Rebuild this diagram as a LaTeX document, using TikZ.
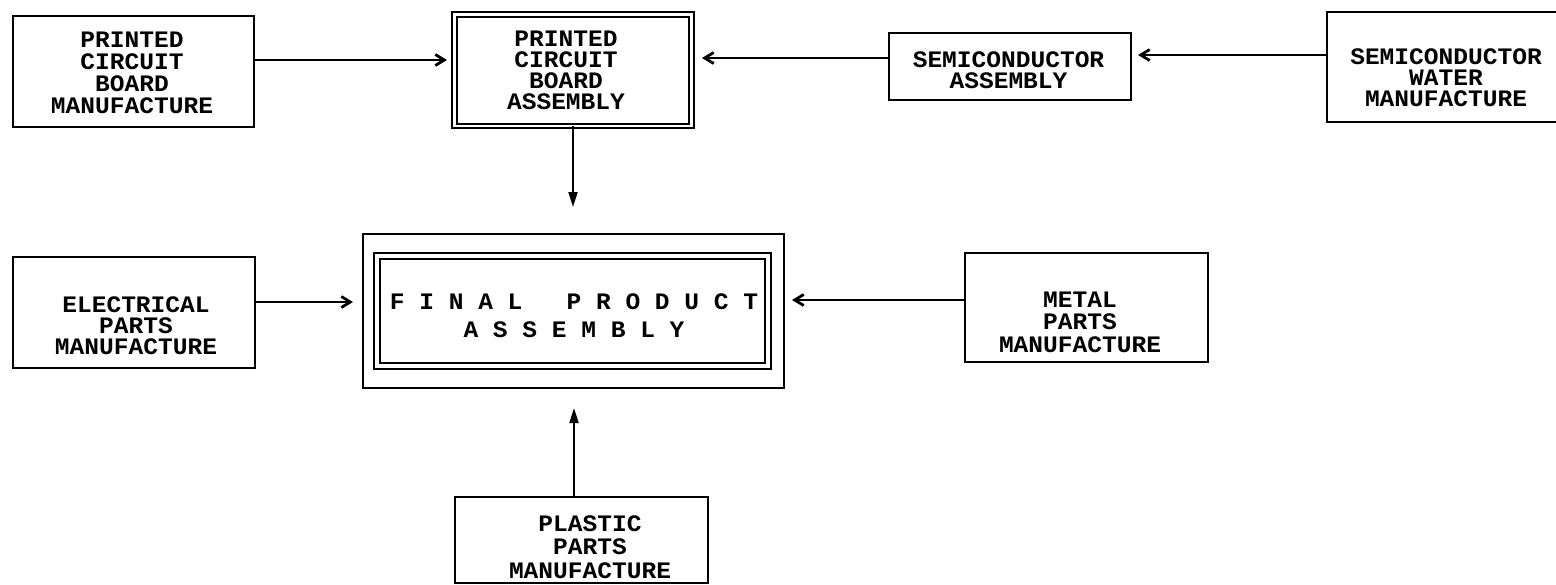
\documentclass[tikz,border=0pt]{standalone}
\usepackage{fontspec}
\newfontfamily\labfont{Liberation Mono}[FakeStretch=1.04]
\usetikzlibrary{arrows.meta}
\begin{document}
\begin{tikzpicture}[x=0.5pt,y=-0.5pt,
  box/.style={draw, line width=1.1pt, rectangle, inner sep=0pt, outer sep=0pt},
  dbox/.style={box, double, double distance=#1},
  dbox/.default=2pt,
  lbl/.style={align=center, inner sep=0pt, font=\labfont\bfseries\fontsize{11.8pt}{#1}\selectfont},
  lbl/.default=11pt,
  arr/.style={line width=1pt, -{Straight Barb[length=4.5pt,width=5.5pt,line width=1.4pt]}},
  varr/.style={line width=1pt, -{Triangle[length=7.5pt,width=4.5pt]}}]
\useasboundingbox (0,0) rectangle (1556,584);

% boxes
\node[box, minimum width=120.5pt, minimum height=55.5pt] (pcbm) at (133.5,71.5) {};
\node[lbl] (pcbmT) at (132,72.5) {PRINTED\\CIRCUIT\\BOARD\\MANUFACTURE};

\node[box, line width=1.1pt, dbox=1.2pt, minimum width=118.5pt, minimum height=55.75pt] (pcba) at (573,70.25) {};
\node[lbl=10.5pt] (pcbaT) at (566,70) {PRINTED\\CIRCUIT\\BOARD\\ASSEMBLY};

\node[box, minimum width=121pt, minimum height=33.5pt] (sema) at (1010,66.5) {};
\node[lbl=10.5pt] (semaT) at (1008.5,70.5) {SEMICONDUCTOR\\ASSEMBLY};

\node[box, minimum width=126.5pt, minimum height=55pt] (water) at (1453.5,67) {};
\node[lbl=10.6pt] (waterT) at (1446,78) {SEMICONDUCTOR\\WATER\\MANUFACTURE};

\node[box, minimum width=210.5pt, minimum height=77pt] (final) at (573.5,311) {};
\node[box, line width=1pt, dbox=2pt, minimum width=195.5pt, minimum height=55.25pt] (finalin) at (572.5,311) {};
\node[lbl=14pt] (finalT) at (574,316) {F~I~N~A~L~~~P~R~O~D~U~C~T\\A~S~S~E~M~B~L~Y};

\node[box, minimum width=121pt, minimum height=55.5pt] (elec) at (134,312.5) {};
\node[lbl=10.5pt] (elecT) at (136,326) {ELECTRICAL\\PARTS\\MANUFACTURE};

\node[box, minimum width=121.5pt, minimum height=54.5pt] (metal) at (1086.5,307.5) {};
\node[lbl=11.25pt] (metalT) at (1080,322) {METAL\\PARTS\\MANUFACTURE};

\node[box, minimum width=126.5pt, minimum height=43pt] (plastic) at (581.5,540) {};
\node[lbl=11.75pt] (plasticT) at (590,547) {PLASTIC\\PARTS\\MANUFACTURE};

% connectors
\draw[arr, shorten >=3.75pt] (pcbm.east |- 0,60) -- (pcba.west |- 0,60);
\draw[arr, shorten >=5.25pt] (sema.west |- 0,58) -- (pcba.east |- 0,58);
\draw[arr, shorten >=3.5pt] (water.west |- 0,55) -- (sema.east |- 0,55);
\draw[varr, shorten >=13.5pt] (pcba.south -| 573,0) -- (final.north -| 573,0);
\draw[varr, shorten >=10pt] (plastic.north -| 574,0) -- (final.south -| 574,0);
\draw[arr, shorten >=5pt] (elec.east |- 0,302) -- (final.west |- 0,302);
\draw[arr, shorten >=4pt] (metal.west |- 0,300) -- (final.east |- 0,300);
\end{tikzpicture}
\end{document}
